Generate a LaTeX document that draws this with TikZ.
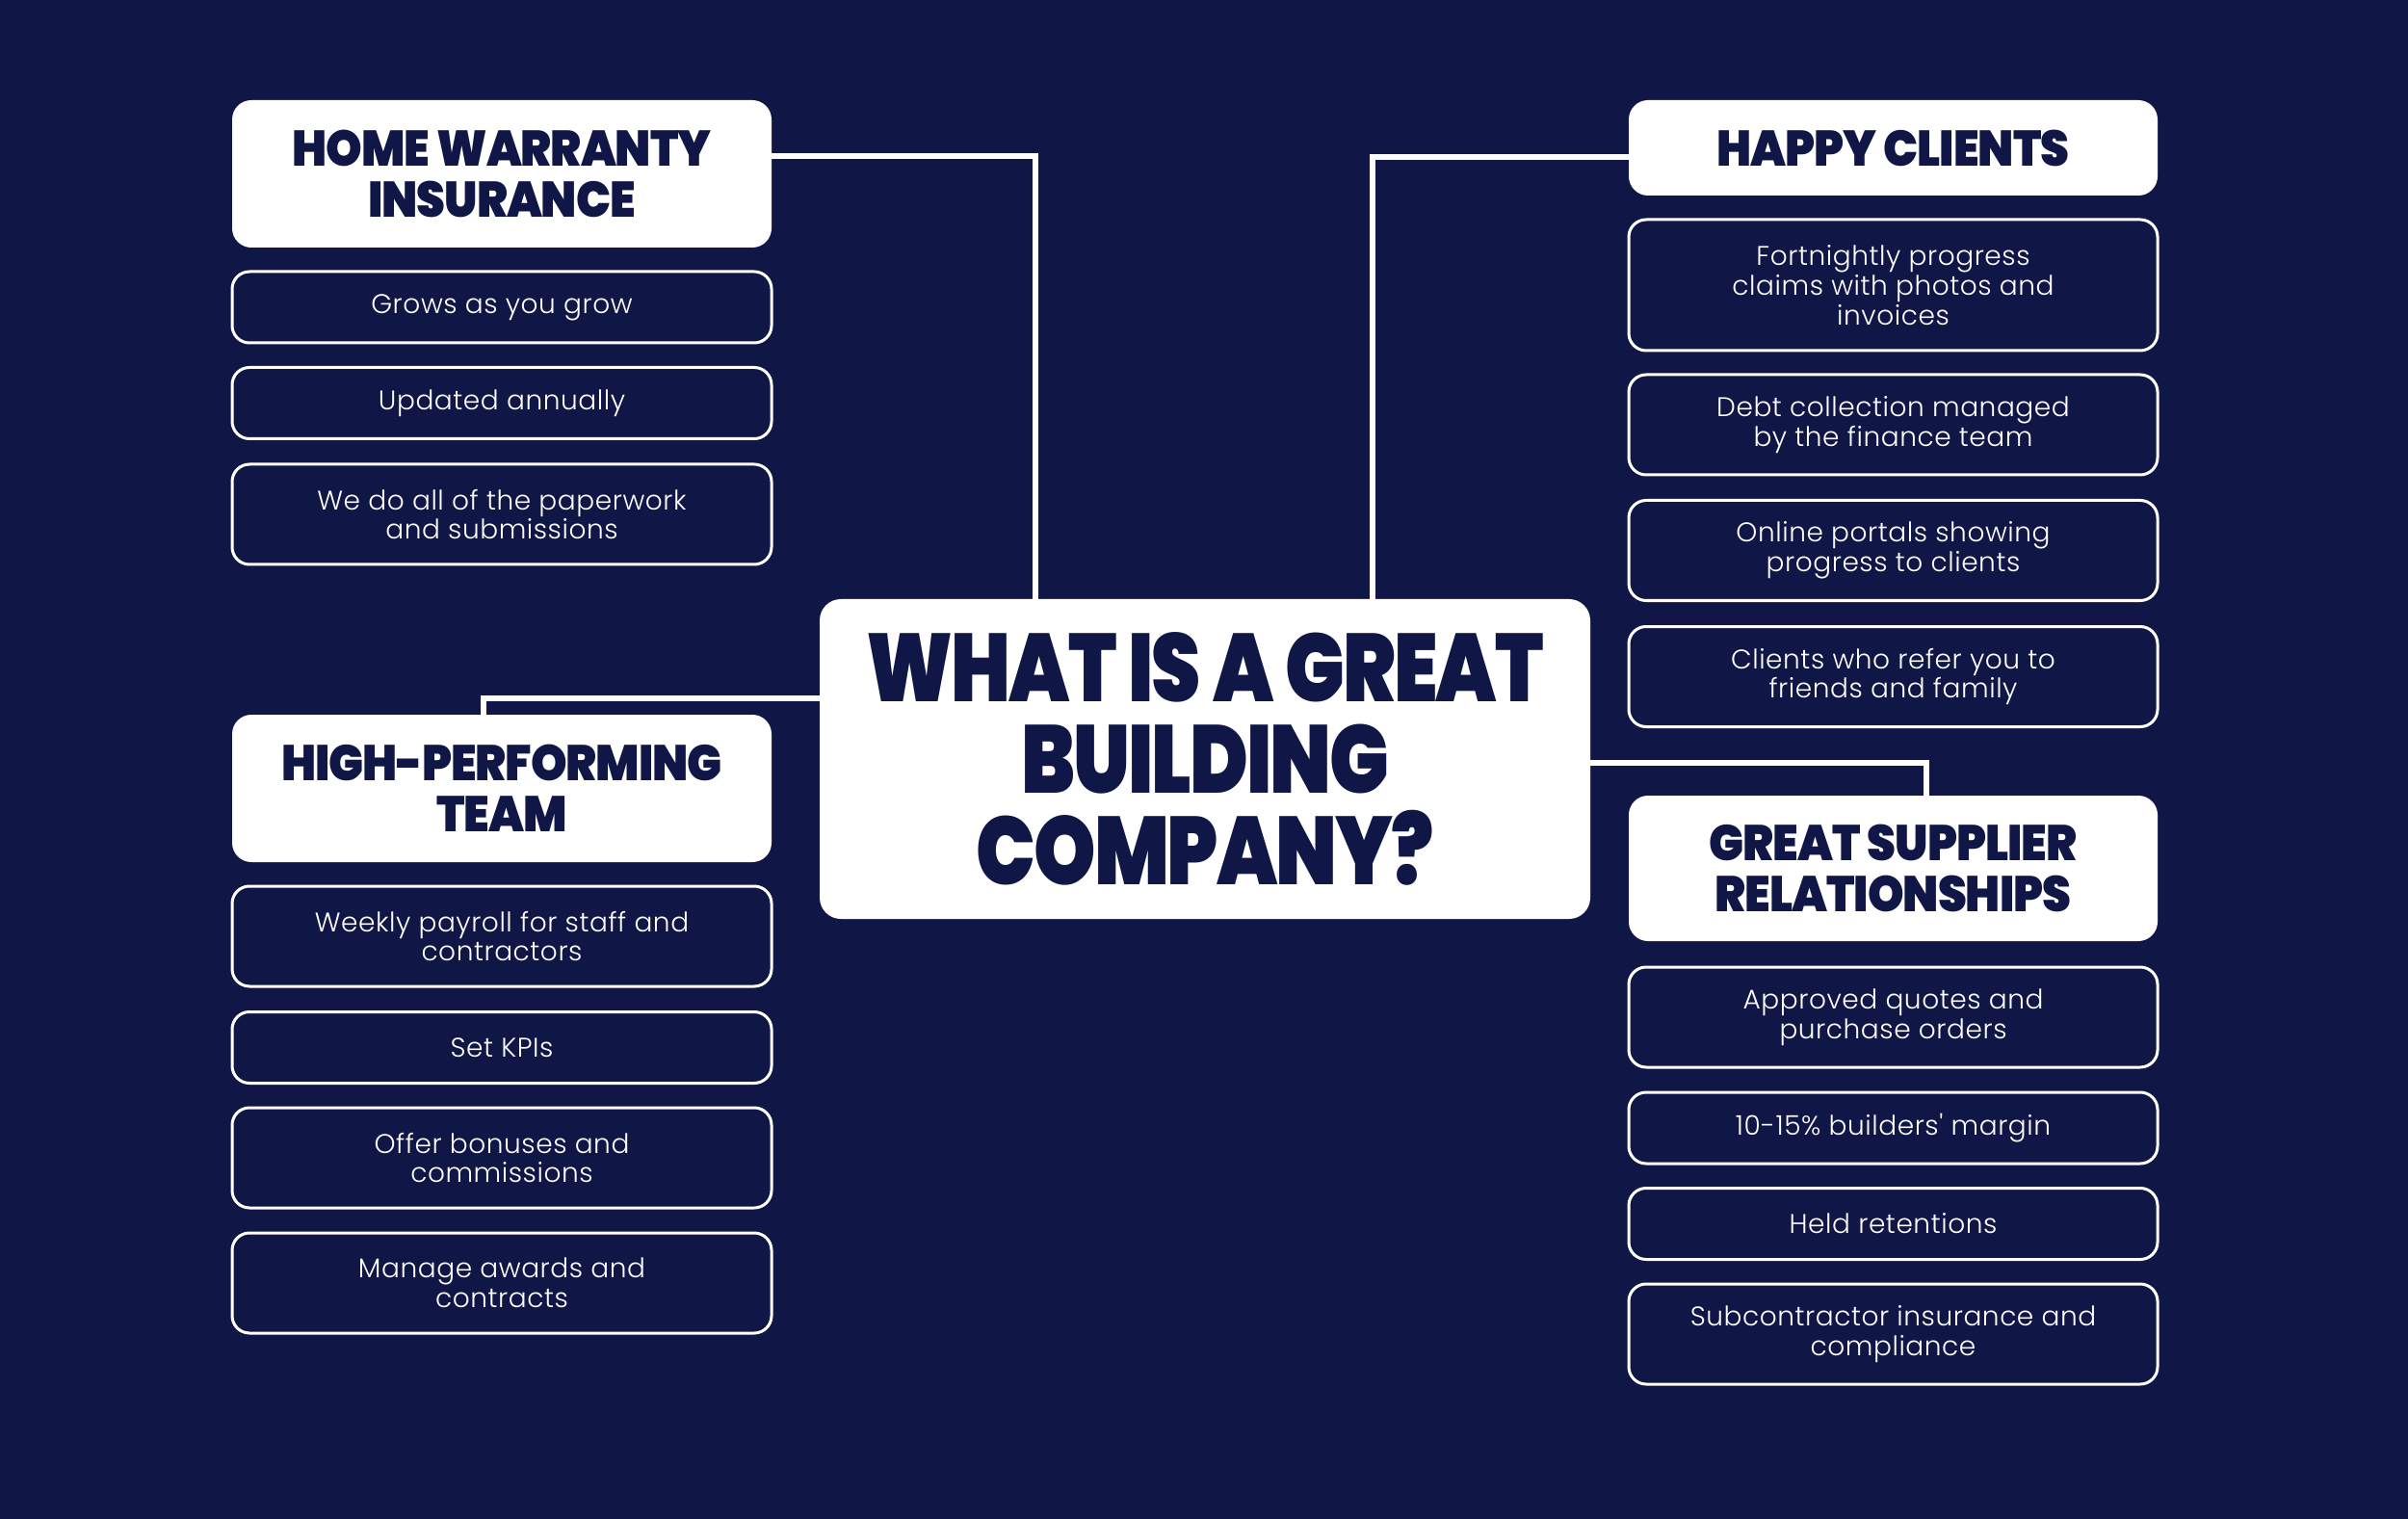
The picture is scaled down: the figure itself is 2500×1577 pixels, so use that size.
\documentclass[tikz,border=0pt]{standalone}
\usepackage{fontspec}
\usepackage{xcolor}
\usepackage{tikz}
\usetikzlibrary{calc}
\newfontfamily\headfont{Poppins Black}[FakeStretch=0.92,LetterSpace=-2]
\newfontfamily\titlefont{Poppins Black}[FakeStretch=0.82,LetterSpace=-2]
\newfontfamily\bodyfont{Poppins Light}[LetterSpace=2]
\definecolor{navyBg}{HTML}{101746}

\tikzset{
  header/.style={fill=white, rounded corners=10pt, minimum width=280pt,
    text=navyBg, align=center, font=\headfont\fontsize{26}{26.5}\selectfont},
  item/.style={draw=white, line width=1.5pt, rounded corners=9pt,
    minimum width=280pt, minimum height=37pt, text=white, align=center,
    font=\bodyfont\fontsize{14}{15.3}\selectfont},
  item2/.style={item, minimum height=52pt},
  item3/.style={item, minimum height=68pt},
  link/.style={draw=white, line width=3pt}
}

\begin{document}
\begin{tikzpicture}[x=0.5pt,y=-0.5pt]
  % Background
  \fill[navyBg] (0,0) rectangle (2500,1577);

  % Centre question
  \node[header, minimum width=400pt, minimum height=166pt, rounded corners=11pt,
    font=\titlefont\fontsize{50}{47.5}\selectfont] (center) at (1251,788)
    {WHAT IS A GREAT\\BUILDING\\COMPANY?};

  % Home warranty insurance
  \node[header, minimum height=76.5pt] (hwi) at (521,180.5) {HOME WARRANTY\\INSURANCE};
  \node[item] (grows) at (521,319) {Grows as you grow};
  \node[item] (updated) at (521,418.5) {Updated annually};
  \node[item2] (paperwork) at (521,534) {We do all of the paperwork\\and submissions};

  % High-performing team
  \node[header, minimum height=76.5pt] (hpt) at (521,818.5) {HIGH-PERFORMING\\TEAM};
  \node[item2] (payroll) at (521,972) {Weekly payroll for staff and\\contractors};
  \node[item] (kpis) at (521,1087.5) {Set KPIs};
  \node[item2] (bonuses) at (521,1202) {Offer bonuses and\\commissions};
  \node[item2] (awards) at (521,1332) {Manage awards and\\contracts};

  % Happy clients
  \node[header, minimum width=274.5pt, minimum height=49.5pt] (happy) at (1965.5,153.5) {HAPPY CLIENTS};
  \node[item3, minimum width=274.5pt] (claims) at (1965.5,296) {Fortnightly progress\\claims with photos and\\invoices};
  \node[item2, minimum width=274.5pt] (debt) at (1965.5,441) {Debt collection managed\\by the finance team};
  \node[item2, minimum width=274.5pt] (portals) at (1965.5,571.5) {Online portals showing\\progress to clients};
  \node[item2, minimum width=274.5pt] (referrals) at (1965.5,702.5) {Clients who refer you to\\friends and family};

  % Great supplier relationships
  \node[header, minimum width=274.5pt, minimum height=75.5pt] (gsr) at (1965.5,901.5) {GREAT SUPPLIER\\RELATIONSHIPS};
  \node[item2, minimum width=274.5pt] (quotes) at (1965.5,1056) {Approved quotes and\\purchase orders};
  \node[item, minimum width=274.5pt] (margin) at (1965.5,1171) {10-15\% builders' margin};
  \node[item, minimum width=274.5pt] (retentions) at (1965.5,1270.5) {Held retentions};
  \node[item2, minimum width=274.5pt] (compliance) at (1965.5,1385) {Subcontractor insurance and\\compliance};

  % Links
  \draw[link] ([yshift=9pt]hwi.east) -| ([xshift=-88pt]center.north);
  \draw[link] ([yshift=-5pt]happy.west) -| ([xshift=87pt]center.north);
  \draw[link] ([yshift=31.5pt]center.west) -| ([xshift=-9.5pt]hpt.north);
  \draw[link] ([yshift=-2pt]center.east) -| ([xshift=17pt]gsr.north);
\end{tikzpicture}
\end{document}
